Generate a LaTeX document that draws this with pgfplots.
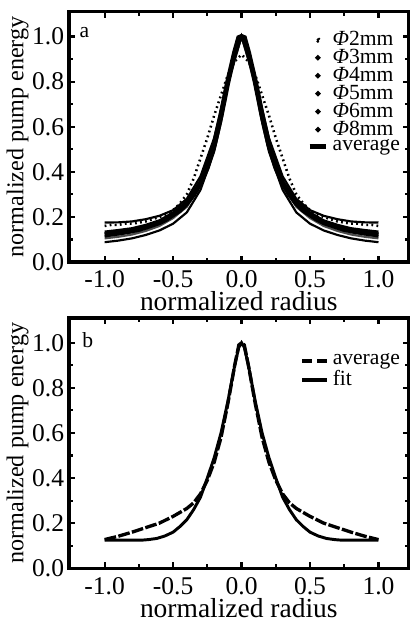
\documentclass[border=0pt]{standalone}
\usepackage{fontspec}
\setmainfont{Liberation Serif}
\usepackage{pgfplots}
\pgfplotsset{compat=1.18}

% average profile, panel a
\pgfplotstableread{
x y
-1.00 0.120
-0.95 0.125
-0.90 0.130
-0.85 0.135
-0.80 0.140
-0.75 0.145
-0.70 0.155
-0.65 0.165
-0.60 0.175
-0.55 0.190
-0.50 0.210
-0.45 0.230
-0.40 0.260
-0.35 0.300
-0.30 0.350
-0.25 0.420
-0.20 0.520
-0.15 0.650
-0.10 0.800
-0.05 0.930
-0.02 0.995
 0.00 1.000
 0.02 0.995
 0.05 0.930
 0.10 0.800
 0.15 0.650
 0.20 0.520
 0.25 0.420
 0.30 0.350
 0.35 0.300
 0.40 0.260
 0.45 0.230
 0.50 0.210
 0.55 0.190
 0.60 0.175
 0.65 0.165
 0.70 0.155
 0.75 0.145
 0.80 0.140
 0.85 0.135
 0.90 0.130
 0.95 0.125
 1.00 0.120
}\avgA

% 2 mm spot, wider profile
\pgfplotstableread{
x y
-1.00 0.160
-0.95 0.165
-0.90 0.165
-0.85 0.170
-0.80 0.170
-0.75 0.175
-0.70 0.180
-0.65 0.190
-0.60 0.200
-0.55 0.210
-0.50 0.230
-0.45 0.260
-0.40 0.300
-0.35 0.370
-0.30 0.460
-0.25 0.550
-0.20 0.650
-0.15 0.740
-0.10 0.830
-0.05 0.890
 0.00 0.920
 0.05 0.890
 0.10 0.830
 0.15 0.740
 0.20 0.650
 0.25 0.550
 0.30 0.460
 0.35 0.370
 0.40 0.300
 0.45 0.260
 0.50 0.230
 0.55 0.210
 0.60 0.200
 0.65 0.190
 0.70 0.180
 0.75 0.175
 0.80 0.170
 0.85 0.170
 0.90 0.165
 0.95 0.165
 1.00 0.160
}\phiTwo

\pgfplotstableread{
x y
-1.00 0.175
-0.90 0.176
-0.80 0.180
-0.70 0.190
-0.60 0.205
-0.50 0.230
-0.40 0.280
-0.30 0.380
-0.20 0.550
-0.15 0.680
-0.10 0.820
-0.05 0.940
 0.00 1.000
 0.05 0.940
 0.10 0.820
 0.15 0.680
 0.20 0.550
 0.30 0.380
 0.40 0.280
 0.50 0.230
 0.60 0.205
 0.70 0.190
 0.80 0.180
 0.90 0.176
 1.00 0.175
}\phiThree

\pgfplotstableread{
x y
-1.00 0.088
-0.90 0.095
-0.80 0.105
-0.70 0.120
-0.60 0.140
-0.50 0.170
-0.40 0.220
-0.30 0.320
-0.20 0.490
-0.15 0.620
-0.10 0.780
-0.05 0.920
 0.00 1.000
 0.05 0.920
 0.10 0.780
 0.15 0.620
 0.20 0.490
 0.30 0.320
 0.40 0.220
 0.50 0.170
 0.60 0.140
 0.70 0.120
 0.80 0.105
 0.90 0.095
 1.00 0.088
}\phiFour

\pgfplotstableread{
x y
-1.00 0.135
-0.90 0.142
-0.80 0.150
-0.70 0.165
-0.60 0.185
-0.50 0.220
-0.40 0.270
-0.30 0.360
-0.20 0.530
-0.10 0.810
 0.00 1.000
 0.10 0.810
 0.20 0.530
 0.30 0.360
 0.40 0.270
 0.50 0.220
 0.60 0.185
 0.70 0.165
 0.80 0.150
 0.90 0.142
 1.00 0.135
}\phiFive

\pgfplotstableread{
x y
-1.00 0.105
-0.90 0.112
-0.80 0.122
-0.70 0.138
-0.60 0.160
-0.50 0.195
-0.40 0.245
-0.30 0.340
-0.20 0.510
-0.10 0.790
 0.00 1.000
 0.10 0.790
 0.20 0.510
 0.30 0.340
 0.40 0.245
 0.50 0.195
 0.60 0.160
 0.70 0.138
 0.80 0.122
 0.90 0.112
 1.00 0.105
}\phiSix

\pgfplotstableread{
x y
-1.00 0.115
-0.90 0.122
-0.80 0.132
-0.70 0.148
-0.60 0.170
-0.50 0.205
-0.40 0.255
-0.30 0.345
-0.20 0.515
-0.10 0.800
 0.00 1.000
 0.10 0.800
 0.20 0.515
 0.30 0.345
 0.40 0.255
 0.50 0.205
 0.60 0.170
 0.70 0.148
 0.80 0.132
 0.90 0.122
 1.00 0.115
}\phiEight

% panel b
\pgfplotstableread{
x y
-1.00 0.127
-0.90 0.142
-0.80 0.160
-0.75 0.170
-0.70 0.180
-0.60 0.200
-0.50 0.230
-0.40 0.265
-0.35 0.290
-0.30 0.330
-0.25 0.390
-0.20 0.470
-0.15 0.580
-0.10 0.730
-0.05 0.900
-0.02 0.990
 0.00 1.000
 0.02 0.990
 0.05 0.900
 0.10 0.730
 0.15 0.580
 0.20 0.470
 0.25 0.390
 0.30 0.330
 0.35 0.290
 0.40 0.265
 0.50 0.230
 0.60 0.200
 0.70 0.180
 0.75 0.170
 0.80 0.160
 0.90 0.142
 1.00 0.127
}\avgB

\pgfplotstableread{
x y
-1.00 0.125
-0.72 0.125
-0.68 0.127
-0.62 0.132
-0.56 0.143
-0.50 0.160
-0.45 0.185
-0.40 0.215
-0.35 0.260
-0.30 0.315
-0.25 0.400
-0.20 0.490
-0.15 0.600
-0.10 0.740
-0.05 0.900
-0.02 0.980
 0.00 1.000
 0.02 0.980
 0.05 0.900
 0.10 0.740
 0.15 0.600
 0.20 0.490
 0.25 0.400
 0.30 0.315
 0.35 0.260
 0.40 0.215
 0.45 0.185
 0.50 0.160
 0.56 0.143
 0.62 0.132
 0.68 0.127
 0.72 0.125
 1.00 0.125
}\fitB

\pgfplotsset{
  profile/.style={
    width=173pt, height=127.5pt, scale only axis,
    xmin=-1.26, xmax=1.22, ymin=0, ymax=1.11,
    xtick={-1,-0.5,0,0.5,1},
    xticklabels={-1.0,-0.5,0.0,0.5,1.0},
    ytick={0,0.2,0.4,0.6,0.8,1.0},
    yticklabels={0.0,0.2,0.4,0.6,0.8,1.0},
    minor x tick num=1, minor y tick num=1,
    tick align=inside, xtick pos=both, ytick pos=both,
    major tick length=3pt, minor tick length=2pt,
    every tick/.style={line width=1.1pt, black},
    axis line style={line width=1.6pt},
    ticklabel style={font=\fontsize{13}{14}\selectfont},
    xticklabel style={yshift=-1pt},
    yticklabel style={xshift=1pt},
    xlabel={normalized radius},
    ylabel={normalized pump energy},
    xlabel style={font=\fontsize{14}{15}\selectfont, yshift=5pt},
    ylabel style={font=\fontsize{12.3}{13}\selectfont, yshift=-5pt},
    legend cell align=left,
    legend style={draw=none, fill=none, inner sep=0pt,
      font=\fontsize{11}{11}\selectfont, row sep=-3.6pt},
  },
  dotleg/.style={legend image code/.code={\fill[black] (0.15cm,0) circle (0.75pt);}},
}

\begin{document}
\begin{tikzpicture}
\begin{axis}[profile, name=a,
  legend style={at={(0.70,0.94)}, anchor=north west},
  legend image code/.code={\draw[line width=2.5pt] (0cm,0cm) -- (0.3cm,0cm);}]
\addplot[black, line width=1.3pt, dash pattern=on 0.9pt off 1.7pt, dotleg] table {\phiTwo};
\addlegendentry{\textit{Φ}2mm}
\addplot[black, line width=1.1pt, dotleg] table {\phiThree};
\addlegendentry{\textit{Φ}3mm}
\addplot[black, line width=1.1pt, dotleg] table {\phiFour};
\addlegendentry{\textit{Φ}4mm}
\addplot[black, line width=1.1pt, dotleg] table {\phiFive};
\addlegendentry{\textit{Φ}5mm}
\addplot[black!70, line width=1.1pt, dotleg] table {\phiSix};
\addlegendentry{\textit{Φ}6mm}
\addplot[black, line width=1.1pt, dotleg] table {\phiEight};
\addlegendentry{\textit{Φ}8mm}
\addplot[black, line width=2.6pt] table {\avgA};
\addlegendentry{average}
\node[font=\fontsize{11}{11}\selectfont] at (rel axis cs:0.045,0.915) {a};
\end{axis}
\begin{axis}[profile, name=b, yshift=-156pt,
  legend style={at={(0.68,0.875)}, anchor=north west, row sep=-2.5pt}]
\addplot[black, line width=1.7pt, dash pattern=on 6pt off 1.2pt,
  legend image code/.code={\draw[line width=2pt, dash pattern=on 5pt off 2.5pt] (0cm,0cm) -- (0.44cm,0cm);}] table {\avgB};
\addlegendentry{average}
\addplot[black, line width=1.5pt,
  legend image code/.code={\draw[line width=2pt] (0cm,0cm) -- (0.44cm,0cm);}] table {\fitB};
\addlegendentry{fit}
\node[font=\fontsize{11}{11}\selectfont] at (rel axis cs:0.055,0.91) {b};
\end{axis}
\path (a.north) ++(0,6pt);
\end{tikzpicture}
\end{document}
